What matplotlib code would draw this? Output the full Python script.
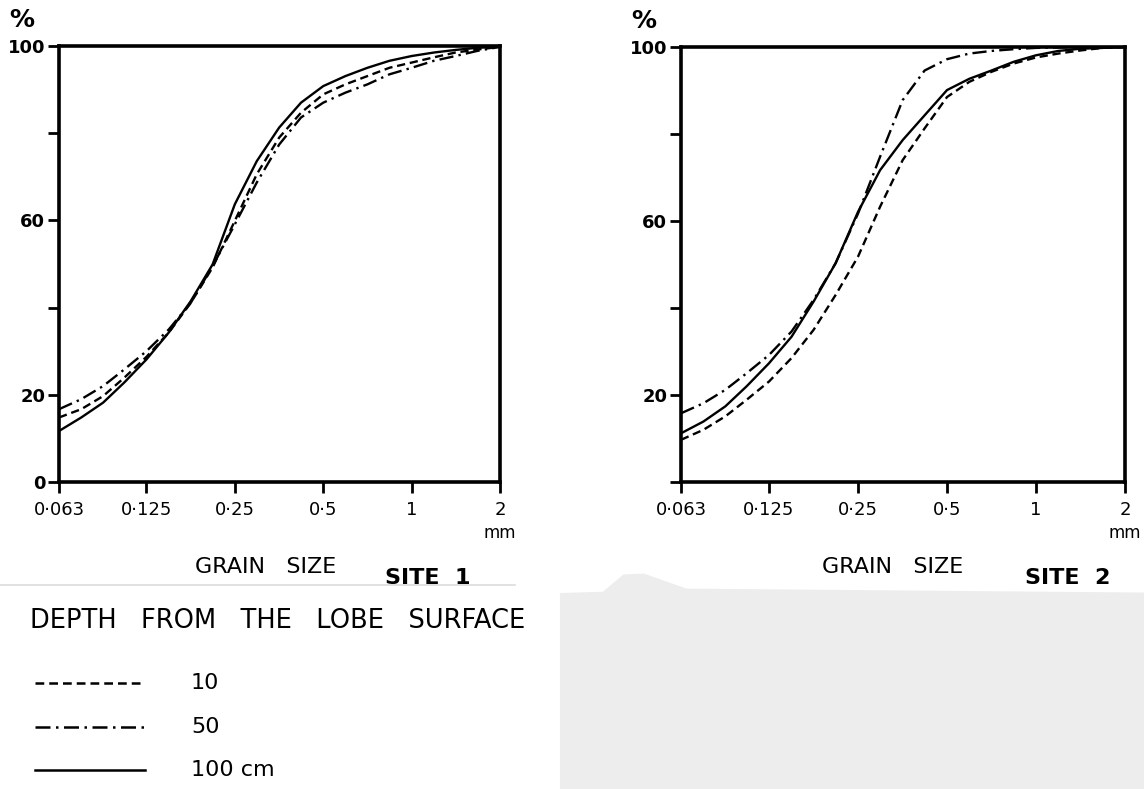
import numpy as np
import matplotlib.pyplot as plt
from matplotlib.patches import Polygon
from matplotlib.ticker import FixedLocator, NullLocator

plt.rcParams['font.family'] = ['DejaVu Sans']

# grain size classes (quarter-phi steps, mm)
sizes = [0.063, 0.075, 0.089, 0.105, 0.125, 0.149, 0.177, 0.21, 0.25, 0.297,
         0.354, 0.42, 0.5, 0.595, 0.707, 0.84, 1.0, 1.19, 1.41, 1.68, 2.0]

# site 1, cumulative %
site1_10 = [14.8, 16.7, 19.7, 23.9, 28.7, 34.3, 41.1, 49.2, 59.9, 70.6, 79.0,
            84.7, 88.9, 91.2, 93.1, 95.0, 96.2, 97.4, 98.5, 99.2, 99.8]
site1_50 = [16.7, 19.0, 22.0, 25.8, 30.0, 35.0, 41.1, 49.5, 59.1, 68.7, 77.4,
            83.6, 87.0, 89.3, 91.2, 93.5, 95.0, 96.6, 97.7, 98.9, 99.8]
site1_100 = [11.7, 14.8, 18.2, 22.8, 28.1, 34.3, 41.5, 49.9, 63.7, 73.6, 81.3,
             87.0, 90.8, 93.1, 95.0, 96.6, 97.7, 98.5, 99.1, 99.6, 99.8]

# site 2, cumulative %
site2_10 = [9.7, 12.0, 15.1, 18.9, 23.1, 28.5, 35.0, 43.0, 51.8, 63.3, 74.0,
            81.3, 88.5, 92.0, 94.3, 96.2, 97.6, 98.5, 99.2, 99.8, 100.0]
site2_50 = [15.8, 18.1, 21.2, 25.0, 29.2, 34.6, 41.9, 50.3, 61.7, 74.8, 87.8,
            94.6, 97.2, 98.5, 99.1, 99.5, 99.8, 99.9, 100.0, 100.0, 100.0]
site2_100 = [11.2, 13.9, 17.4, 22.0, 27.3, 33.4, 41.5, 50.3, 62.1, 71.7, 78.6,
             84.3, 90.1, 92.7, 94.6, 96.6, 98.1, 99.1, 99.6, 99.8, 100.0]

xticks = [0.063, 0.125, 0.25, 0.5, 1, 2]
xlabels = ['0·063', '0·125', '0·25', '0·5', '1', '2']
yticks = [0, 20, 40, 60, 80, 100]
ylabels1 = ['0', '20', '', '60', '', '100']
ylabels2 = ['', '20', '', '60', '', '100']

fig = plt.figure(figsize=(11.44, 7.89), dpi=100)

# grey paper patch bottom right and the paper edge on the left
grey = Polygon([(0.4895, 0.0), (0.4895, 0.2484), (0.527, 0.25), (0.545, 0.272),
                (0.563, 0.273), (0.6, 0.254), (1.0, 0.249), (1.0, 0.0)],
               closed=True, transform=fig.transFigure, facecolor='#ededed',
               edgecolor='none', zorder=0)
fig.patches.append(grey)
fig.add_artist(plt.Line2D([0.0, 0.45], [0.258, 0.258], transform=fig.transFigure,
                          color='#dcdcdc', lw=1.2))

ax1 = fig.add_axes([0.0516, 0.3891, 0.3855, 0.5526])
ax2 = fig.add_axes([0.5953, 0.3891, 0.3881, 0.5513])

styles = [((0, (3.5, 2)), '10'), ((0, (6, 2.2, 1, 2.2)), '50'), ('-', '100 cm')]

for ax, series, ylabels in [(ax1, [site1_10, site1_50, site1_100], ylabels1),
                            (ax2, [site2_10, site2_50, site2_100], ylabels2)]:
    for vals, (ls, _) in zip(series, styles):
        ax.plot(sizes, vals, color='black', lw=1.7, ls=ls)
    ax.set_xscale('log', base=2)
    ax.set_xlim(0.063, 2)
    ax.set_ylim(0, 100)
    ax.xaxis.set_major_locator(FixedLocator(xticks))
    ax.xaxis.set_minor_locator(NullLocator())
    ax.set_xticklabels(xlabels, fontsize=13)
    ax.set_yticks(yticks)
    ax.set_yticklabels(ylabels, fontsize=13, fontweight='bold')
    ax.tick_params(axis='both', direction='out', length=8, width=2)
    ax.tick_params(axis='y', pad=2)
    ax.tick_params(axis='x', pad=6)
    for sp in ax.spines.values():
        sp.set_linewidth(2.6)
    ax.text(-0.084, 1.06, '%', transform=ax.transAxes, fontsize=18, fontweight='bold',
            ha='center', va='center')
    ax.text(1.0, -0.117, 'mm', transform=ax.transAxes, fontsize=12, ha='center', va='center')

fig.text(0.232, 0.282, 'GRAIN   SIZE', fontsize=16, ha='center', va='center')
fig.text(0.374, 0.267, 'SITE  1', fontsize=16, fontweight='bold', ha='center', va='center')
fig.text(0.78, 0.282, 'GRAIN   SIZE', fontsize=16, ha='center', va='center')
fig.text(0.933, 0.267, 'SITE  2', fontsize=16, fontweight='bold', ha='center', va='center')

# legend
fig.text(0.026, 0.213, 'DEPTH   FROM   THE   LOBE   SURFACE', fontsize=18.5, ha='left', va='center')
for k, (ls, lab) in enumerate(styles):
    yy = 0.134 - k * 0.055
    fig.add_artist(plt.Line2D([0.031, 0.127], [yy, yy], transform=fig.transFigure,
                              color='black', lw=1.8, ls=ls))
    fig.text(0.167, yy, lab, fontsize=16, ha='left', va='center')

fig.savefig('out.png', dpi=100)
